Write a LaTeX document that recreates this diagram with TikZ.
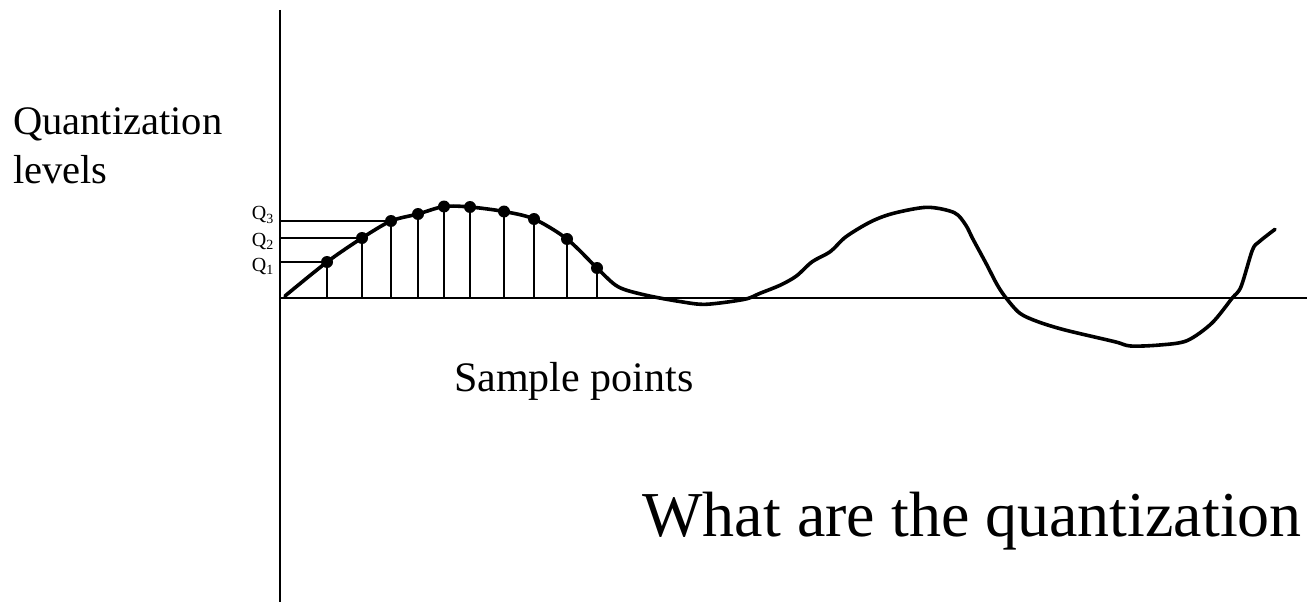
\documentclass[tikz,border=0pt]{standalone}
\usepackage{fontspec}
\setmainfont{Liberation Serif}
\usetikzlibrary{positioning}

\begin{document}
\begin{tikzpicture}[x=1pt, y=-1pt,
  axis/.style={line width=2.6pt},
  wave/.style={line width=3.6pt, line join=round, line cap=round},
  stem/.style={line width=2pt},
  qline/.style={line width=2pt},
  sample/.style={circle, fill=black, inner sep=0pt, minimum size=12pt},
  biglabel/.style={font=\fontsize{40.5}{49}\selectfont, inner sep=0pt, align=left},
  qlabel/.style={font=\fontsize{20}{24}\selectfont, inner sep=0pt, anchor=east}
]
  \useasboundingbox (0,0) rectangle (1307,602);

  %% Axes
  \coordinate (origin) at (280,298);
  \coordinate (ytop) at (280,10);
  \coordinate (ybot) at (280,602);
  \coordinate (xend) at (1307,298);
  \draw[axis] (ytop) -- (ybot);
  \draw[axis] (origin) -- (xend);

  %% Signal
  \draw[wave] plot[smooth, tension=0.5] coordinates {
    (285,296) (327,262) (362,238) (391,221) (418,214) (444,206.5)
    (470,207) (504,211.5) (534,219) (567,239) (597,268) (618,286.7)
    (645,295) (681,301.7) (706,304.3) (744.5,299.3) (760,293.3)
    (780.6,285) (796.4,276) (812.2,261.7) (830.2,251.7) (846,236.7)
    (870.9,221.7) (893.5,213.3) (927.3,207.3) (954.4,212.7)
    (965.7,225) (972.5,238.3) (986,263.3) (997.3,285) (1006.3,298.3)
    (1019.9,313.3) (1037.9,321.7) (1065,330) (1114.7,341.7)
    (1130.5,346) (1159.8,345) (1186.9,340.7) (1211.7,323.3)
    (1232,298.3) (1241,286.7) (1252.4,250) (1259.2,241.7) (1275,229.3)};

  %% Samples
  \foreach \i/\x/\y in {1/327/262, 2/362/238, 3/391/221, 4/418/214,
      5/444/206.5, 6/470/207, 7/504/211.5, 8/534/219, 9/567/239, 10/597/268} {
    \node[sample] (s\i) at (\x,\y) {};
    \draw[stem] (s\i.center) -- (s\i.center |- origin);
  }

  %% Quantization levels
  \foreach \i in {1,2,3} {
    \coordinate (q\i) at (origin |- s\i.center);
    \draw[qline] (q\i) -- (s\i.center);
  }
  \node[qlabel] (lq1) at (274,266) {Q\textsubscript{1}};
  \node[qlabel] (lq2) at (274,241) {Q\textsubscript{2}};
  \node[qlabel] (lq3) at (274,215) {Q\textsubscript{3}};

  %% Labels
  \node[biglabel, anchor=north west] (levels) at (13,107) {Quantization\\levels};
  \node[biglabel, font=\fontsize{42}{49}\selectfont, anchor=base west]
    (samples) at (454,391) {Sample points};
  \node[font=\fontsize{64}{72}\selectfont, inner sep=0pt, anchor=base east]
    (question) at (1302,536) {What are the quantization};
\end{tikzpicture}
\end{document}
